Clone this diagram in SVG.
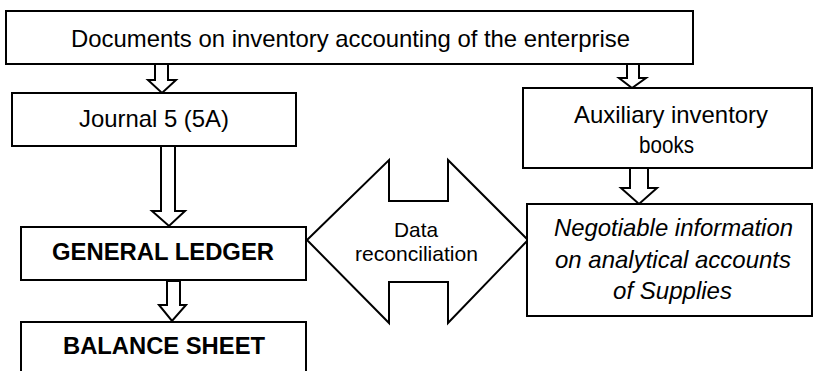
<svg xmlns="http://www.w3.org/2000/svg" width="814" height="371" viewBox="0 0 814 371">
<style>
.box{fill:#fff;stroke:#000;stroke-width:2}
.arr{fill:#fff;stroke:#000;stroke-width:2;stroke-linejoin:miter}
.t{font-family:"Liberation Sans",Arial,sans-serif;font-size:24px;fill:#000;text-anchor:middle}
.s{font-size:21px}
.b{font-weight:bold}
.i{font-style:italic}
</style>
<rect width="814" height="371" fill="#fff"/>
<g id="connectors">
<polygon class="arr" points="155,64 168,64 168,80 176,80 162,93 148,80 155,80"/>
<polygon class="arr" points="627,64 639,64 639,78 646,78 632,88 619,78 627,78"/>
<polygon class="arr" points="161,146 175,146 175,211 185,211 169,226 152,211 161,211"/>
<polygon class="arr" points="167,281 180,281 180,305 186,305 172,321 159,305 167,305"/>
<polygon class="arr" points="630,168 648,168 648,188 657,188 639,204 621,188 630,188"/>
</g>
<g id="reconciliation">
<polygon class="arr" points="307,240 389,160 389,201 448,201 448,160 528,240 448,323 448,282 389,282 389,323"/>
<text class="t s" x="416" y="237" textLength="44" lengthAdjust="spacingAndGlyphs">Data</text>
<text class="t s" x="416.5" y="261" textLength="123" lengthAdjust="spacingAndGlyphs">reconciliation</text>
</g>
<g id="documents">
<rect class="box" x="6" y="11" width="687" height="53"/>
<text class="t" x="350.5" y="47" textLength="559" lengthAdjust="spacingAndGlyphs">Documents on inventory accounting of the enterprise</text>
</g>
<g id="journal">
<rect class="box" x="12" y="93" width="284" height="53"/>
<text class="t" x="154" y="127" textLength="150" lengthAdjust="spacingAndGlyphs">Journal 5 (5A)</text>
</g>
<g id="auxiliary">
<rect class="box" x="523" y="88" width="289" height="80"/>
<text class="t" x="671" y="123" textLength="194" lengthAdjust="spacingAndGlyphs">Auxiliary inventory</text>
<text class="t" x="666.5" y="153" textLength="55" lengthAdjust="spacingAndGlyphs">books</text>
</g>
<g id="general-ledger">
<rect class="box" x="21" y="227" width="285" height="53"/>
<text class="t b" x="163" y="260" textLength="222" lengthAdjust="spacingAndGlyphs">GENERAL LEDGER</text>
</g>
<g id="balance-sheet">
<rect class="box" x="21" y="322" width="285" height="60"/>
<text class="t b" x="164" y="354" textLength="202" lengthAdjust="spacingAndGlyphs">BALANCE SHEET</text>
</g>
<g id="negotiable">
<rect class="box" x="527" y="204" width="285" height="112"/>
<text class="t i" x="673.5" y="236" textLength="239" lengthAdjust="spacingAndGlyphs">Negotiable information</text>
<text class="t i" x="673" y="268" textLength="236" lengthAdjust="spacingAndGlyphs">on analytical accounts</text>
<text class="t i" x="672.5" y="299" textLength="119" lengthAdjust="spacingAndGlyphs">of Supplies</text>
</g>
</svg>
